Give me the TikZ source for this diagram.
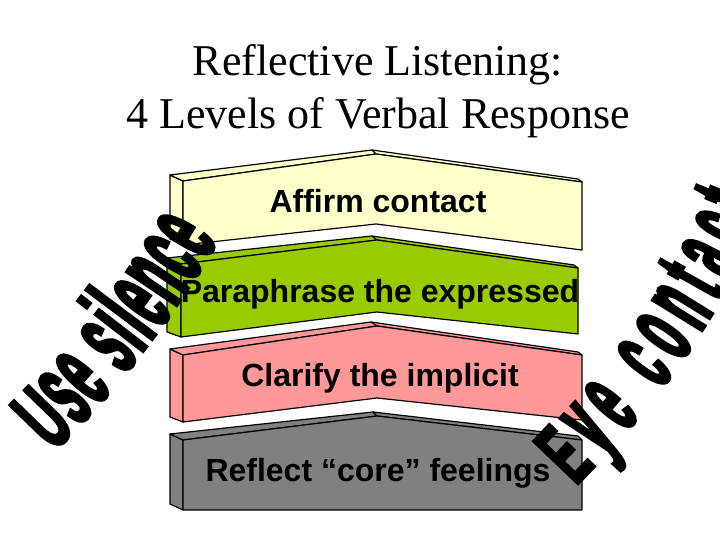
\documentclass[tikz,border=0pt]{standalone}
\usepackage{fontspec}
\setmainfont{Liberation Serif}
\newfontfamily\arialf{Liberation Sans}
\newfontfamily\waCapF{Liberation Sans}[FakeStretch=0.48,FakeBold=2.8]
\newfontfamily\waLowF{Liberation Sans}[FakeStretch=0.38,FakeBold=2.8]
\usetikzlibrary{decorations.text}
\definecolor{ylw}{HTML}{FFFFCC}
\definecolor{grn}{HTML}{99CC00}
\definecolor{pnk}{HTML}{FF9999}
\definecolor{gry}{HTML}{808080}
\newcommand\wsCap{\waCapF\bfseries\fontsize{94}{94}\selectfont}
\newcommand\wsLow{\waLowF\bfseries\fontsize{114}{114}\selectfont}
\newcommand\ecCap{\waCapF\bfseries\fontsize{90}{90}\selectfont}
\newcommand\ecLow{\waLowF\bfseries\fontsize{110}{110}\selectfont}
\tikzset{
  face/.style={draw=black, line width=1.2pt, line join=round},
  lbl/.style={font=\arialf\bfseries\fontsize{32}{32}\selectfont, anchor=base, inner sep=0pt},
  ttl/.style={font=\fontsize{44}{44}\selectfont, anchor=base, inner sep=0pt}
}
\begin{document}
\begin{tikzpicture}[x=1pt,y=-1pt]
\useasboundingbox (0,0) rectangle (720,540);
\clip (0,0) rectangle (720,540);
\fill[white] (0,0) rectangle (720,540);
% title
\node[ttl] (title1) at (378,76) {Reflective Listening:};
\node[ttl] (title2) at (378,129) {4 Levels of Verbal Response};
% yellow block
\filldraw[face,fill=ylw] (170,175) -- (183,181) -- (183,245) -- (170,239) -- cycle;
\filldraw[face,fill=ylw] (183,181) -- (376,154) -- (582,182) -- (578,179) -- (372,150) -- (170,175) -- cycle;
\filldraw[face,fill=ylw] (183,181) -- (376,154) -- (582,182) -- (582,250) -- (376,224) -- (183,245) -- cycle;
\draw[face] (372,150) -- (376,154);
% green block
\filldraw[face,fill=grn] (167,258) -- (181,264) -- (181,337) -- (167,332) -- cycle;
\filldraw[face,fill=grn] (181,264) -- (377,240) -- (578,268) -- (574,265) -- (372,236) -- (167,258) -- cycle;
\filldraw[face,fill=grn] (181,264) -- (377,240) -- (578,268) -- (578,334) -- (377,312) -- (181,337) -- cycle;
\draw[face] (372,236) -- (377,240);
% pink block
\filldraw[face,fill=pnk] (170,349) -- (183,355) -- (183,422) -- (170,417) -- cycle;
\filldraw[face,fill=pnk] (183,355) -- (377,326) -- (582,355) -- (578,352) -- (371,322) -- (170,349) -- cycle;
\filldraw[face,fill=pnk] (183,355) -- (377,326) -- (582,355) -- (582,420) -- (377,398) -- (183,422) -- cycle;
\draw[face] (371,322) -- (377,326);
% gray block
\filldraw[face,fill=gry] (170,434) -- (183,440) -- (183,510) -- (170,504) -- cycle;
\filldraw[face,fill=gry] (183,440) -- (377,416) -- (582,440) -- (578,436) -- (373,412) -- (170,434) -- cycle;
\filldraw[face,fill=gry] (183,440) -- (377,416) -- (582,440) -- (582,510) -- (183,510) -- cycle;
\draw[face] (373,412) -- (377,416);
% labels
\node[lbl] (l1) at (378,213) {Affirm contact};
\node[lbl] (l2) at (380,302) {Paraphrase the expressed};
\node[lbl] (l3) at (380,386) {Clarify the implicit};
\node[lbl] (l4) at (378,481) {Reflect “core” feelings};
% word art
\path[decorate, decoration={text along path, text align={fit to path},
  text={|\wsCap|U|\wsLow|se silence}}]
  (54,452) .. controls (118,388) and (173,318) .. (218,240);
\path[decorate, decoration={text along path, text align={fit to path},
  text={|\ecCap|E|\ecLow|ye contact}}]
  (576,486) .. controls (650,410) and (718,325) .. (765,208);
\end{tikzpicture}
\end{document}
